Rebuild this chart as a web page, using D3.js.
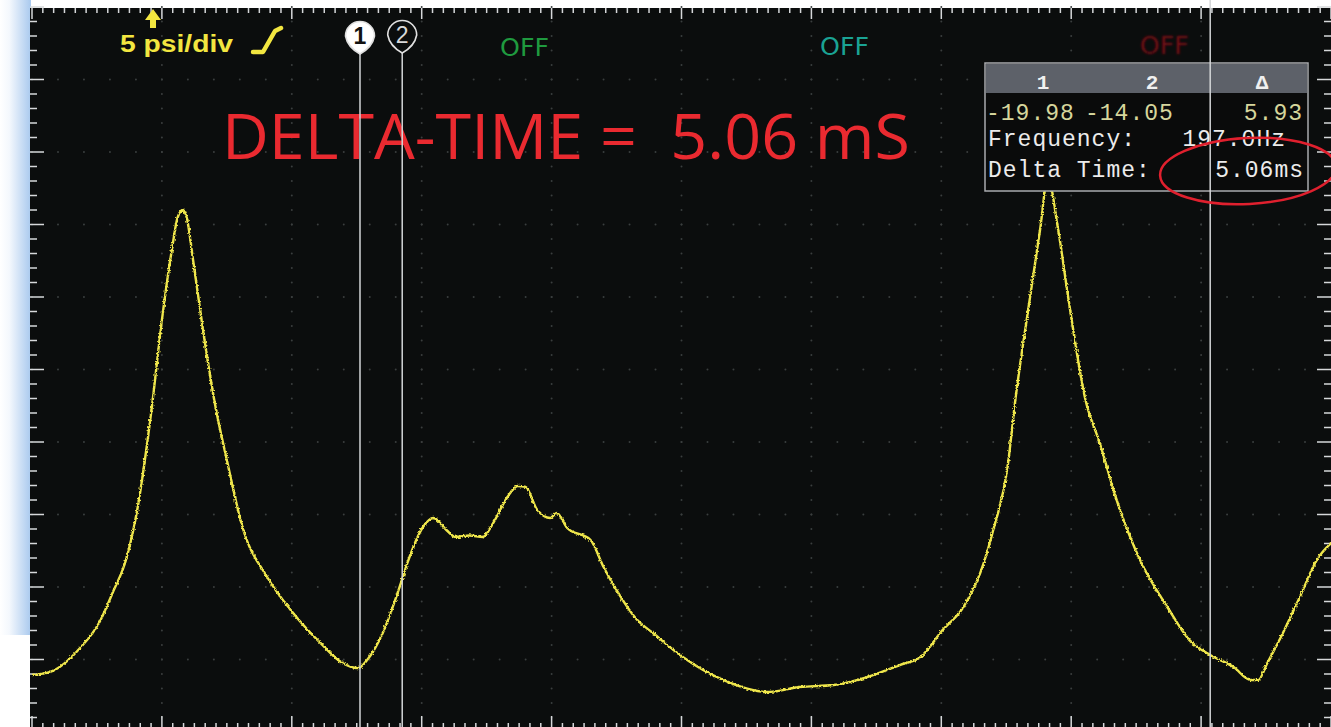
<!DOCTYPE html>
<html>
<head>
<meta charset="utf-8">
<script src="https://cdn.jsdelivr.net/npm/d3@7"></script>
<style>
  html, body { margin: 0; padding: 0; background: #ffffff; }
  svg { display: block; }
</style>
</head>
<body>
<div id="container"></div>
<script>
const width = 1331, height = 727;

// Trace: time in divisions, pressure in psi (5 psi/div, 0 = bottom graticule)
const traceDiv = [0.00, 0.14, 0.37, 0.52, 0.62, 0.73, 0.81, 0.89, 0.92, 1.00, 1.08, 1.12, 1.16, 1.19, 1.24,
  1.32, 1.41, 1.50, 1.62, 1.81, 2.01, 2.22, 2.39, 2.51, 2.58, 2.70, 2.83, 2.89, 3.01, 3.09, 3.19, 3.26,
  3.37, 3.47, 3.55, 3.66, 3.74, 3.80, 3.89, 3.99, 4.04, 4.12, 4.30, 4.40, 4.50, 4.66, 4.78, 5.01, 5.32,
  5.66, 5.91, 6.17, 6.43, 6.68, 6.84, 7.01, 7.17, 7.30, 7.40, 7.51, 7.57, 7.68, 7.76, 7.82, 7.90, 7.98,
  8.11, 8.22, 8.35, 8.53, 8.74, 8.91, 9.07, 9.25, 9.38, 9.44, 9.51, 9.63, 9.76, 9.89, 10.00];
const tracePsi = [3.93, 4.14, 5.79, 7.59, 9.59, 12.07, 15.31, 20.14, 22.21, 28.41, 33.45, 35.45, 36.00, 35.52, 32.55,
  27.52, 22.55, 18.76, 14.14, 10.69, 8.21, 6.14, 4.76, 4.41, 4.97, 6.83, 10.00, 11.66, 14.14, 14.76, 13.93, 13.45,
  13.55, 13.45, 14.41, 16.21, 16.97, 16.90, 15.31, 14.76, 15.10, 14.07, 13.24, 11.38, 9.79, 7.72, 6.83, 5.17, 3.59,
  2.76, 3.10, 3.24, 3.79, 4.62, 5.17, 7.03, 8.62, 10.97, 13.93, 18.28, 22.90, 29.79, 34.62, 38.21, 34.62, 29.79,
  22.90, 19.93, 16.00, 11.86, 8.62, 6.34, 5.31, 4.48, 3.59, 3.59, 4.76, 6.83, 9.31, 11.86, 13.03];

// Cursor positions (divisions)
const cursorNames = ["1", "2"];
const cursorDiv = [2.525, 2.85];
const markerDiv = 9.07;

// Readout panel
const readHeader = ["1", "2", "Δ"];
const readValues = ["-19.98", "-14.05", "5.93"];
const freqText = "197.0Hz";
const deltaText = "5.06ms";
const channelOff = ["OFF", "OFF", "OFF"];
const offColors = ["#1f9a3f", "#1aa394", "#7a0c18"];

const svg = d3.select("#container").append("svg")
  .attr("width", width).attr("height", height);

const defs = svg.append("defs");
const grad = defs.append("linearGradient").attr("id", "strip").attr("x1", 0).attr("x2", 1);
grad.append("stop").attr("offset", 0).attr("stop-color", "#ffffff");
grad.append("stop").attr("offset", 0.3).attr("stop-color", "#f4f8fd");
grad.append("stop").attr("offset", 1).attr("stop-color", "#a9c9ee");

const rough = defs.append("filter").attr("id", "rough")
  .attr("filterUnits", "userSpaceOnUse")
  .attr("x", 0).attr("y", 0).attr("width", width).attr("height", height);
rough.append("feTurbulence").attr("type", "fractalNoise")
  .attr("baseFrequency", 0.6).attr("numOctaves", 1).attr("seed", 3).attr("result", "n");
rough.append("feDisplacementMap").attr("in", "SourceGraphic").attr("in2", "n")
  .attr("scale", 3.5).attr("xChannelSelector", "R").attr("yChannelSelector", "G");

const blur = defs.append("filter").attr("id", "blur");
blur.append("feGaussianBlur").attr("stdDeviation", 0.9);

// Scales: 10 divisions each way
const x = d3.scaleLinear().domain([0, 10]).range([32, 1331]);
const y = d3.scaleLinear().domain([0, 50]).range([732, 7]);

// Frame: left strip and screen
svg.append("rect").attr("x", 0).attr("y", 0).attr("width", 31).attr("height", 635)
  .attr("fill", "url(#strip)");
svg.append("rect").attr("x", 30).attr("y", 8).attr("width", width - 30).attr("height", height - 8)
  .attr("fill", "#0b0d0d");

// Graticule dots
const grid = svg.append("g").attr("fill", "#3a3e3e");
d3.range(1, 10).forEach(d => {
  d3.range(0, 50.01, 1).forEach(p => {
    grid.append("circle").attr("cx", x(d)).attr("cy", y(p)).attr("r", 1);
  });
});
d3.range(5, 50, 5).forEach(p => {
  d3.range(0, 10.01, 0.2).forEach(d => {
    grid.append("circle").attr("cx", x(d)).attr("cy", y(p)).attr("r", 1);
  });
});

// Rulers
const ruler = svg.append("g").attr("stroke", "#d6d8da").attr("stroke-width", 1.5);
d3.range(0, 10.001, 1 / 12).forEach((d, i) => {
  const major = i % 12 === 0;
  ruler.append("line").attr("x1", x(d)).attr("x2", x(d))
    .attr("y1", 8).attr("y2", major ? 19 : 13);
  ruler.append("line").attr("x1", x(d)).attr("x2", x(d))
    .attr("y1", major ? 716 : 723).attr("y2", 727);
});
d3.range(0, 50.01, 1).forEach((p, i) => {
  const major = i % 5 === 0;
  ruler.append("line").attr("x1", 30).attr("x2", major ? 44 : 37)
    .attr("y1", y(p)).attr("y2", y(p));
  ruler.append("line").attr("x1", 1331).attr("x2", major ? 1317 : 1324)
    .attr("y1", y(p)).attr("y2", y(p));
});

// Trace
const line = d3.line().x((d, i) => x(traceDiv[i])).y(d => y(d)).curve(d3.curveMonotoneX);
svg.append("path")
  .datum(tracePsi)
  .attr("d", line)
  .attr("fill", "none")
  .attr("stroke", "#efe64c")
  .attr("stroke-width", 2.4)
  .attr("stroke-linejoin", "round")
  .attr("filter", "url(#rough)");

// Channel header
svg.append("path")
  .attr("d", "M153,9 L161,20 L156,20 L156,28 L150,28 L150,20 L145,20 Z")
  .attr("fill", "#f2e640");
svg.append("text")
  .attr("x", 120).attr("y", 52)
  .attr("fill", "#f2e640")
  .style("font-family", "'Liberation Sans', Arial, sans-serif")
  .style("font-size", "24px").style("font-weight", "700")
  .attr("textLength", 113).attr("lengthAdjust", "spacingAndGlyphs")
  .text("5 psi/div");
svg.append("path")
  .attr("d", "M253,52 L263,52 L275,31 L281,28")
  .attr("fill", "none").attr("stroke", "#f2e640").attr("stroke-width", 4.5)
  .attr("stroke-linecap", "round").attr("stroke-linejoin", "round");

// OFF channel labels
const offX = [500, 820, 1140];
channelOff.forEach((s, i) => {
  svg.append("text")
    .attr("x", offX[i]).attr("y", 56 - i)
    .attr("fill", offColors[i])
    .attr("filter", i === 2 ? "url(#blur)" : null)
    .style("font-family", "'DejaVu Sans Condensed', 'DejaVu Sans', sans-serif")
    .style("font-size", "24px")
    .attr("textLength", 49).attr("lengthAdjust", "spacingAndGlyphs")
    .text(s);
});

// Annotation
svg.append("text")
  .attr("x", 222).attr("y", 159)
  .attr("fill", "#ea2a30")
  .style("font-family", "'Open Sans', 'Noto Sans', sans-serif")
  .style("font-size", "62px")
  .style("white-space", "pre")
  .attr("xml:space", "preserve")
  .attr("textLength", 688).attr("lengthAdjust", "spacingAndGlyphs")
  .text("DELTA-TIME =  5.06 mS");

// Cursor lines and markers
cursorDiv.forEach((c, i) => {
  const cx = x(c);
  svg.append("line").attr("x1", cx).attr("x2", cx).attr("y1", 50).attr("y2", height)
    .attr("stroke", "#d4d6d8").attr("stroke-width", 1.5);
  const cy = 36 - i;
  const r = 14.5;
  svg.append("path")
    .attr("d", `M${cx - r},${cy} A${r},${r} 0 1 1 ${cx + r},${cy} Q${cx + r - 2},${cy + 11} ${cx},${cy + 18} Q${cx - r + 2},${cy + 11} ${cx - r},${cy} Z`)
    .attr("fill", i === 0 ? "#ffffff" : "#0b0d0d")
    .attr("stroke", "#e0e0e0").attr("stroke-width", 1.6);
  svg.append("text")
    .attr("x", cx).attr("y", cy + 8)
    .attr("text-anchor", "middle")
    .attr("fill", i === 0 ? "#111111" : "#d8d8d8")
    .style("font-family", "'Liberation Sans', Arial, sans-serif")
    .style("font-size", "23px").style("font-weight", i === 0 ? "700" : "400")
    .text(cursorNames[i]);
});

// Readout panel
const box = svg.append("g");
box.append("rect").attr("x", 985).attr("y", 63).attr("width", 323).attr("height", 128)
  .attr("fill", "#0a0b0b").attr("stroke", "#a9abae").attr("stroke-width", 1.5);
box.append("rect").attr("x", 986).attr("y", 64).attr("width", 321).attr("height", 29)
  .attr("fill", "#5d6169");
const mono = "'Liberation Mono', 'DejaVu Sans Mono', monospace";
[1043, 1152, 1262].forEach((hx, i) => {
  box.append("text").attr("x", hx).attr("y", 89).attr("text-anchor", "middle")
    .attr("fill", "#f0f0f0").style("font-family", mono)
    .style("font-size", "21px").style("font-weight", "700")
    .text(readHeader[i]);
});
const valueX = [986, 1085, 1303];
readValues.forEach((v, i) => {
  box.append("text").attr("x", valueX[i]).attr("y", 120)
    .attr("text-anchor", i === 2 ? "end" : "start")
    .attr("fill", "#d6d69c").style("font-family", mono)
    .style("font-size", "23px").style("letter-spacing", "1px")
    .text(v);
});
box.append("text").attr("x", 988).attr("y", 146)
  .attr("fill", "#ececec").style("font-family", mono)
  .style("font-size", "23px").style("letter-spacing", "1px")
  .text("Frequency:");
box.append("text").attr("x", 1286).attr("y", 146).attr("text-anchor", "end")
  .attr("fill", "#ececec").style("font-family", mono)
  .style("font-size", "23px").style("letter-spacing", "1px")
  .text(freqText);
box.append("text").attr("x", 988).attr("y", 177)
  .attr("fill", "#ececec").style("font-family", mono)
  .style("font-size", "23px").style("letter-spacing", "1px")
  .text("Delta Time:");
box.append("text").attr("x", 1304).attr("y", 177).attr("text-anchor", "end")
  .attr("fill", "#ececec").style("font-family", mono)
  .style("font-size", "23px").style("letter-spacing", "1px")
  .text(deltaText);

// Third vertical marker
svg.append("line").attr("x1", x(markerDiv)).attr("x2", x(markerDiv))
  .attr("y1", 0).attr("y2", height)
  .attr("stroke", "#d4d6d8").attr("stroke-width", 1.5);

// Hand-drawn highlight ellipse
svg.append("ellipse")
  .attr("cx", 1248).attr("cy", 171).attr("rx", 88).attr("ry", 33)
  .attr("transform", "rotate(-3 1248 171)")
  .attr("fill", "none").attr("stroke", "#e0202e").attr("stroke-width", 2.5);
</script>
</body>
</html>
